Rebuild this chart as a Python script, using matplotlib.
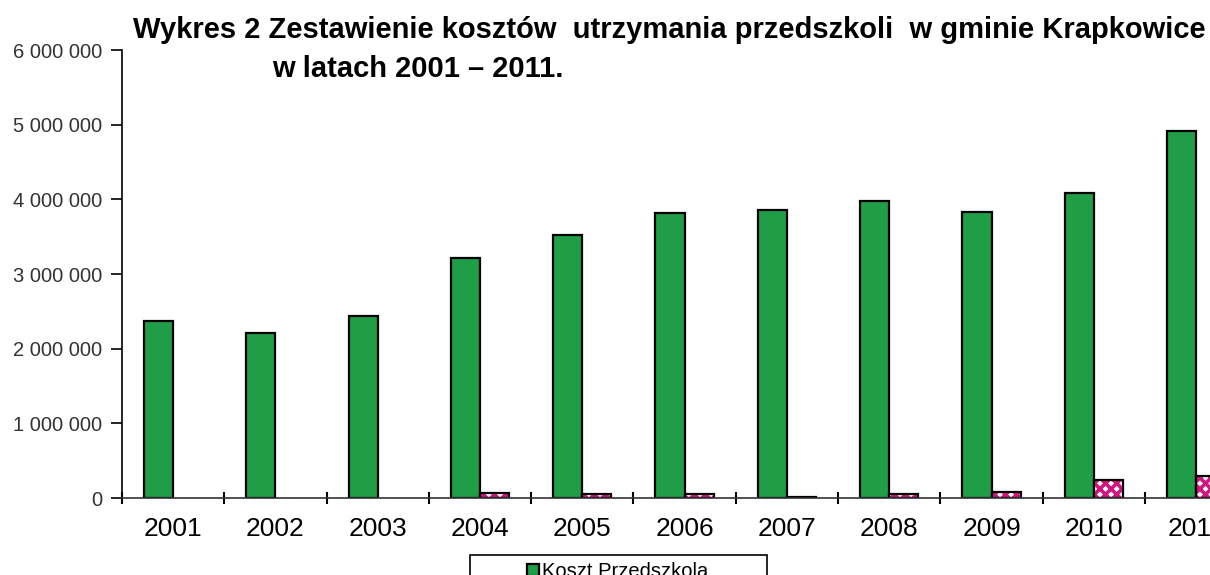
import numpy as np
import matplotlib
matplotlib.use("Agg")
import matplotlib.pyplot as plt
from matplotlib.patches import Rectangle
from matplotlib.ticker import FuncFormatter, MultipleLocator

plt.rcParams['font.family'] = ['Liberation Sans', 'DejaVu Sans']
plt.rcParams['hatch.linewidth'] = 2.6

# data
years = ['2001', '2002', '2003', '2004', '2005', '2006', '2007', '2008', '2009', '2010', '2011']
koszt = [2370000, 2210000, 2440000, 3210000, 3520000, 3820000, 3860000, 3980000, 3830000, 4080000, 4910000]
drugi = [0, 0, 0, 67000, 54000, 50000, 8000, 60000, 80000, 240000, 295000]

green = '#1f9d47'
pink = '#d4147f'

fig = plt.figure(figsize=(12.1, 5.75), dpi=100)
ax = fig.add_axes([0.1008, 0.1339, 0.93, 0.779])

x = np.arange(len(years))
w = 0.285
g = ax.bar(x - w / 2, koszt, w, color=green, edgecolor='black', linewidth=1.6,
           label='Koszt Przedszkola')
# hatched pink bars: pattern first, black outline on top (no outline for empty years)
edge_lw = [0 if v == 0 else 1.6 for v in drugi]
ax.bar(x + w / 2, drugi, w, color='white', edgecolor=pink, hatch='xxx', linewidth=0)
ax.bar(x + w / 2, drugi, w, fill=False, edgecolor='black', linewidth=edge_lw)

ax.set_xlim(-0.5, len(years) - 0.5)
ax.set_ylim(0, 6000000)
ax.yaxis.set_major_locator(MultipleLocator(1000000))
ax.yaxis.set_major_formatter(FuncFormatter(lambda v, p: '{:,.0f}'.format(v).replace(',', ' ')))

ax.set_xticks(x)
ax.set_xticklabels(years)
ax.set_xticks(np.arange(len(years) + 1) - 0.5, minor=True)
ax.tick_params(axis='x', which='major', length=0, labelsize=19, pad=14, colors='black')
ax.tick_params(axis='x', which='minor', length=9, width=1.5, direction='inout')
ax.tick_params(axis='y', length=8, width=1.2, labelsize=14.5, labelcolor='#333333', pad=6)

for s in ['top', 'right']:
    ax.spines[s].set_visible(False)
ax.spines['left'].set_linewidth(1.2)
ax.spines['bottom'].set_linewidth(1.2)
ax.spines['bottom'].set_color('#333333')

fig.text(133 / 1210, 1 - 38 / 575,
         'Wykres 2 Zestawienie kosztów  utrzymania przedszkoli  w gminie Krapkowice',
         fontsize=21, fontweight='bold', ha='left', va='baseline')
fig.text(272 / 1210, 1 - 77 / 575, 'w latach 2001 – 2011.',
         fontsize=21, fontweight='bold', ha='left', va='baseline')

# legend box (runs off the bottom edge like in the original)
fig.patches.append(Rectangle((470 / 1210, -0.05), 297 / 1210, 0.05 + 20 / 575,
                             transform=fig.transFigure, fill=False,
                             edgecolor='black', linewidth=1.2))
fig.legend(handles=[g], labels=['Koszt Przedszkola'], loc='upper center',
           bbox_to_anchor=(618 / 1210, 1 - 556 / 575), fontsize=14.5,
           frameon=False, handlelength=0.6, handleheight=0.6,
           handletextpad=0.15, borderpad=0.3, borderaxespad=0)

fig.savefig('out.png', dpi=100)
